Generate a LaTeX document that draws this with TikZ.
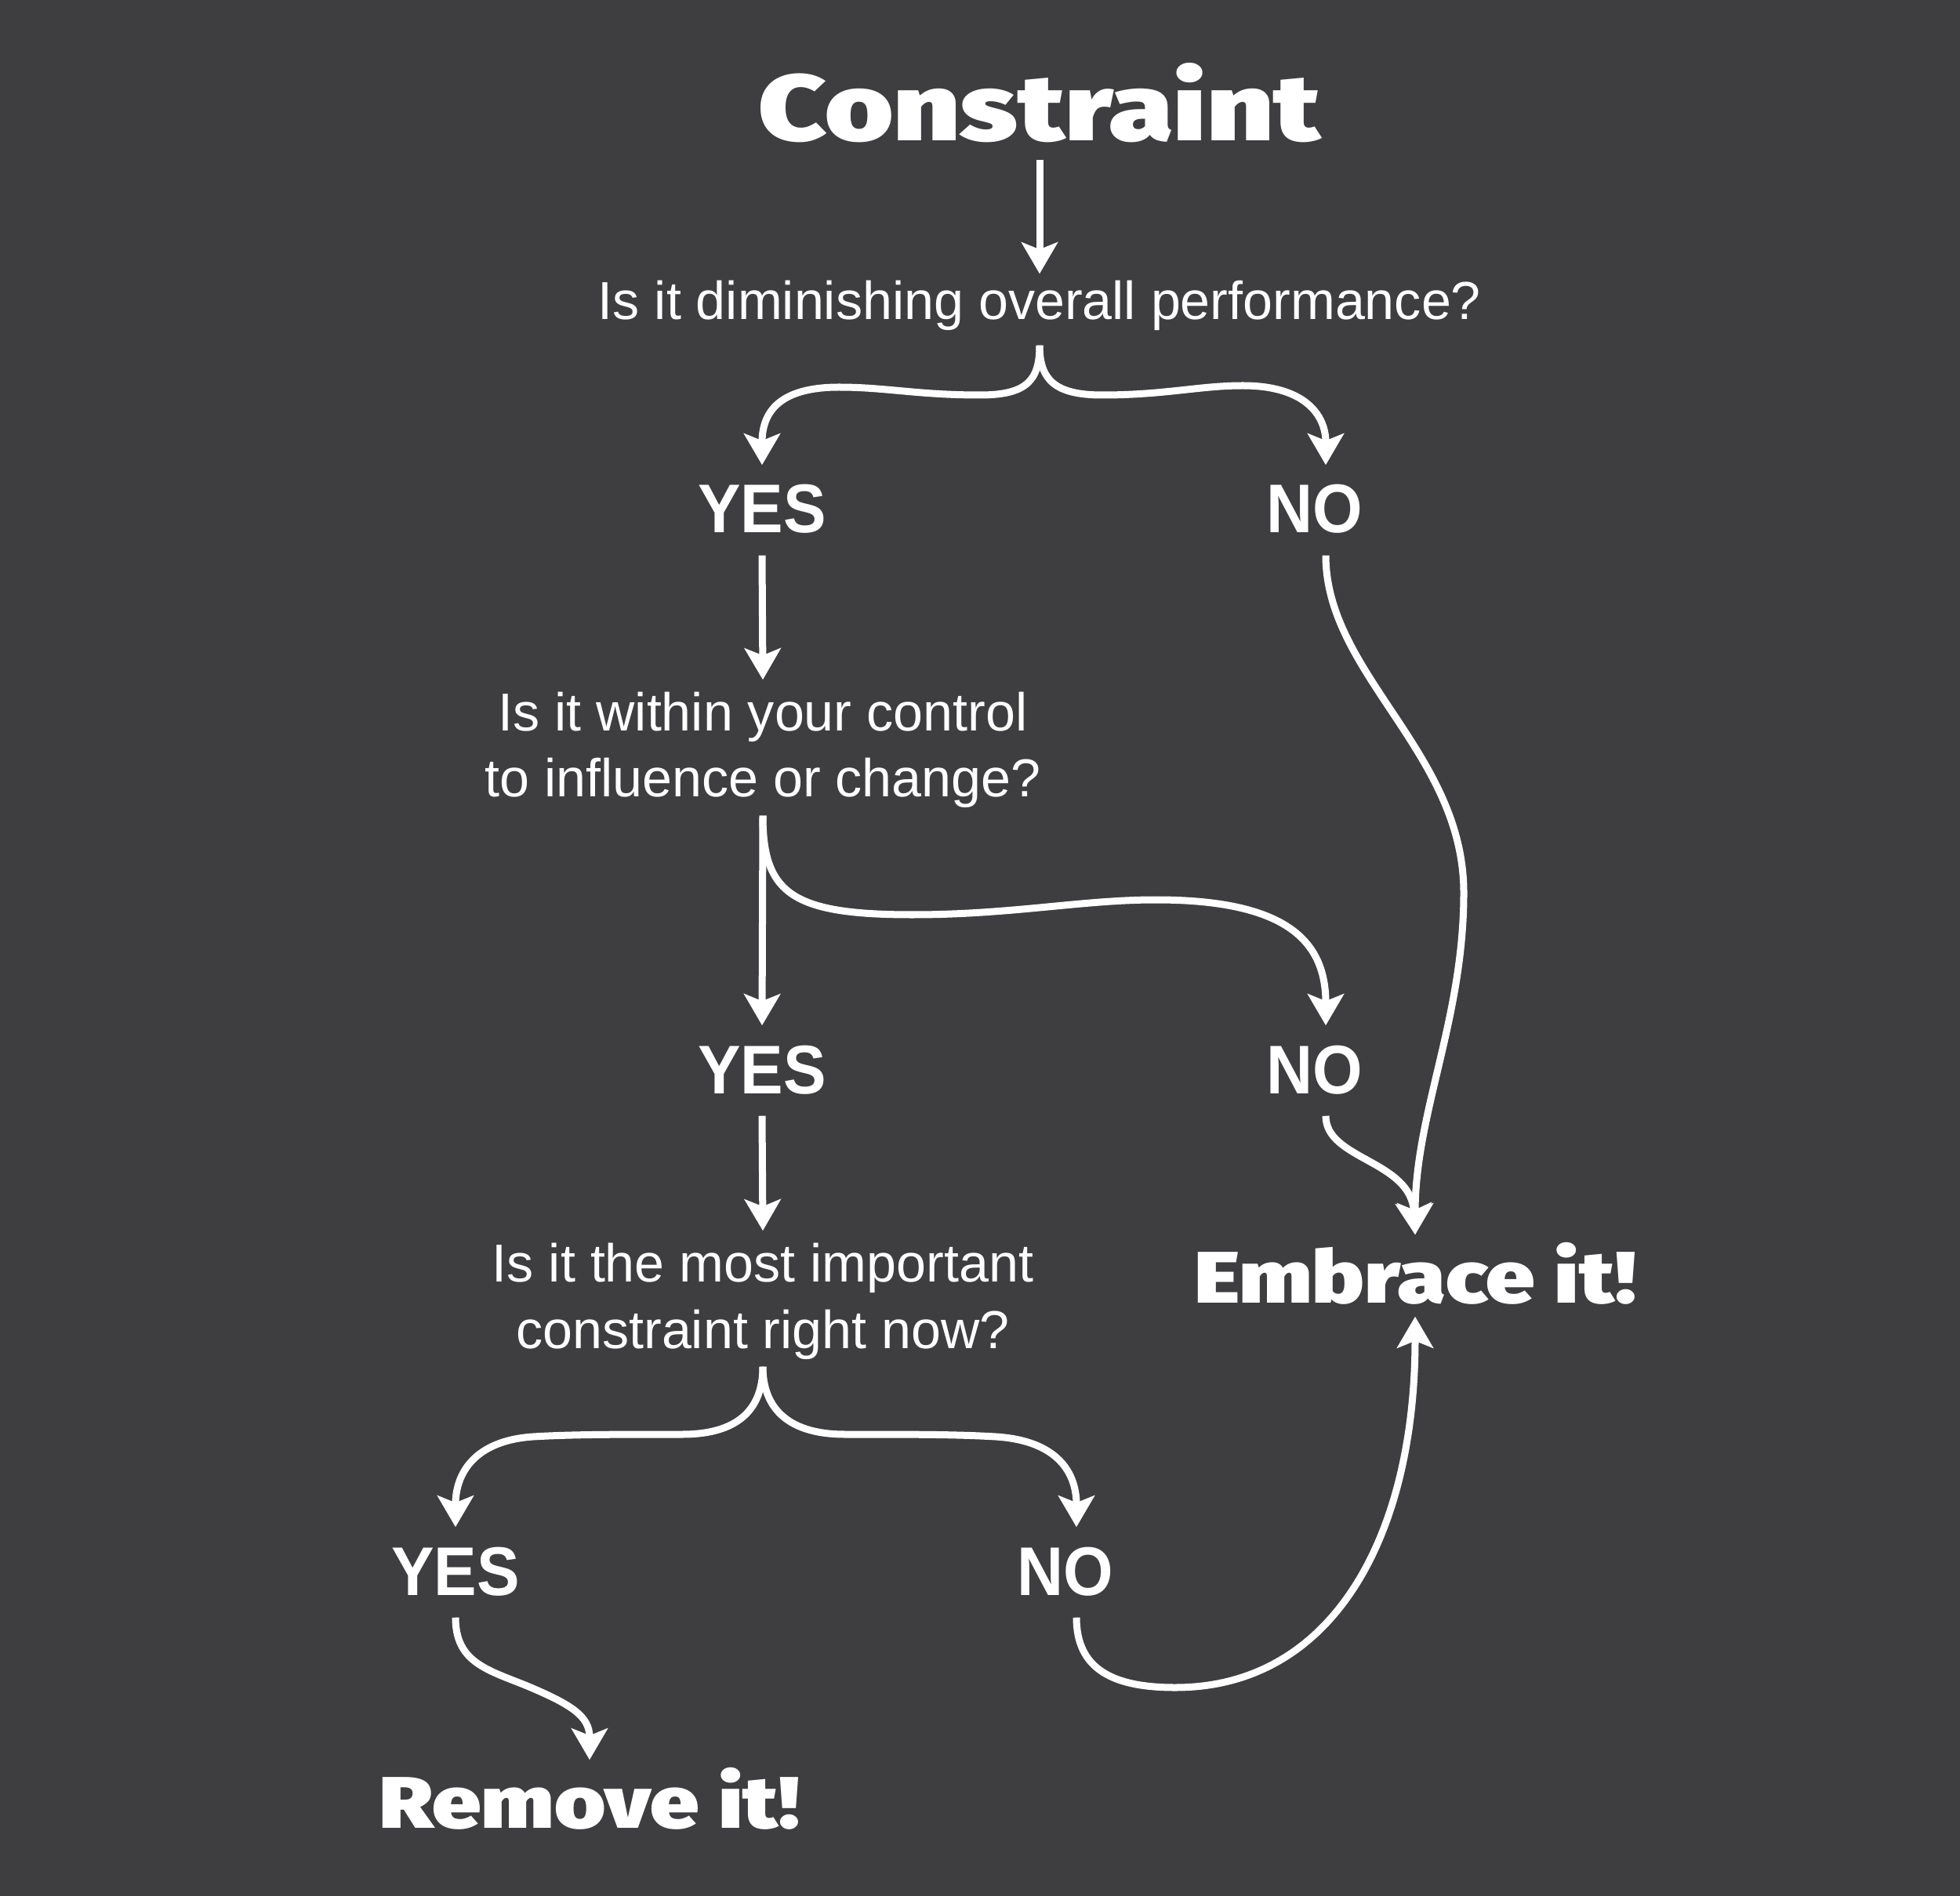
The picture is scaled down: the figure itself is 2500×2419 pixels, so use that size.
\documentclass[tikz,border=0pt]{standalone}
\usepackage{fontspec}
\usetikzlibrary{arrows.meta,calc}
\newfontfamily\qfontfam{Liberation Sans}
\newfontfamily\ansfam{Liberation Sans}[FakeStretch=0.93]
\newfontfamily\heavyfam{Fira Sans Black}[FakeStretch=1.2]
\newfontfamily\heavytfam{Fira Sans Black}[FakeStretch=1.25]
\newcommand\qfont{\qfontfam\fontsize{19.4pt}{23.9pt}\selectfont}
\newcommand\ansfont{\ansfam\bfseries\fontsize{25pt}{30pt}\selectfont}
\newcommand\titlefont{\heavytfam\fontsize{34pt}{40pt}\selectfont}
\newcommand\finfont{\heavyfam\fontsize{26.5pt}{32pt}\selectfont}
\definecolor{bg}{HTML}{3E3D3F}
\tikzset{
  txt/.style={text=white, inner sep=0pt, anchor=base},
  ttl/.style={txt, font=\titlefont, text height=0.85cm, text depth=0.23cm},
  qone/.style={txt, font=\qfont, text height=0.58cm, text depth=0.32cm},
  qtwo/.style={txt, font=\qfont, align=center, text height=1.49cm, text depth=0.23cm},
  ans/.style={txt, font=\ansfont, text height=0.86cm, text depth=0.28cm},
  fin/.style={txt, font=\finfont, text height=0.86cm, text depth=0.17cm},
  conn/.style={draw=white, line width=0.09cm, -{Stealth[length=0.40cm,width=0.46cm,inset=0.09cm]}}
}
\begin{document}
\begin{tikzpicture}[x=0.01cm,y=-0.01cm]
\path[use as bounding box, fill=bg] (0,0) rectangle (2500,2419);

\node[ttl] (title) at (1326,180) {Constraint};
\node[qone] (q1) at (1326,408) {Is it diminishing overall performance?};
\node[ans] (yes1) at (972,680) {YES};
\node[ans] (no1) at (1677,680) {NO};
\node[qtwo] (q2) at (973,1017) {Is it within your control\\to influence or change?};
\node[ans] (yes2) at (972,1395) {YES};
\node[ans] (no2) at (1677,1395) {NO};
\node[qtwo] (q3) at (973,1720) {Is it the most important\\constraint right now?};
\node[ans] (yes3) at (581,2035) {YES};
\node[ans] (no3) at (1359,2035) {NO};
\node[fin] (remove) at (752,2332) {Remove it!};
\node[fin] (embrace) at (1805,1662) {Embrace it!};

\draw[conn] (title.south) -- (q1.north);
\draw[conn] (q1.south) .. controls (1326,485) and (1310,504) .. (1250,504)
  .. controls (1170,504) and (1130,494) .. (1070,494)
  .. controls (995,494) and (972,525) .. (yes1.north);
\draw[conn] (q1.south) .. controls (1326,485) and (1346,504) .. (1406,504)
  .. controls (1486,504) and (1530,492) .. (1585,492)
  .. controls (1665,492) and (1691,530) .. ([xshift=0.14cm]no1.north);
\draw[conn] (yes1.south) -- (q2.north);
\draw[conn] (q2.south) -- (yes2.north);
\draw[conn] (q2.south) .. controls (973,1140) and (1010,1167) .. (1164,1167)
  .. controls (1290,1167) and (1380,1148) .. (1474,1148)
  .. controls (1640,1148) and (1691,1200) .. ([xshift=0.14cm]no2.north);
\draw[conn] ([xshift=0.14cm]no1.south) .. controls (1691,860) and (1867,960) .. (1867,1139)
  .. controls (1867,1300) and (1805,1420) .. (embrace.north);
\draw[conn] ([xshift=0.14cm]no2.south) .. controls (1691,1480) and (1800,1480) .. (embrace.north);
\draw[conn] (yes2.south) -- (q3.north);
\draw[conn] (q3.south) .. controls (973,1790) and (950,1830) .. (870,1830)
  .. controls (790,1830) and (730,1830) .. (680,1833)
  .. controls (605,1838) and (581,1880) .. (yes3.north);
\draw[conn] (q3.south) .. controls (973,1790) and (998,1830) .. (1078,1830)
  .. controls (1160,1830) and (1220,1830) .. (1270,1833)
  .. controls (1350,1838) and (1373,1880) .. ([xshift=0.14cm]no3.north);
\draw[conn] (yes3.south) .. controls (581,2120) and (620,2130) .. (670,2150)
  .. controls (730,2175) and (752,2190) .. (remove.north);
\draw[conn] ([xshift=0.14cm]no3.south) .. controls (1373,2130) and (1420,2153) .. (1499,2153)
  .. controls (1700,2153) and (1805,1960) .. (embrace.south);
\end{tikzpicture}
\end{document}
